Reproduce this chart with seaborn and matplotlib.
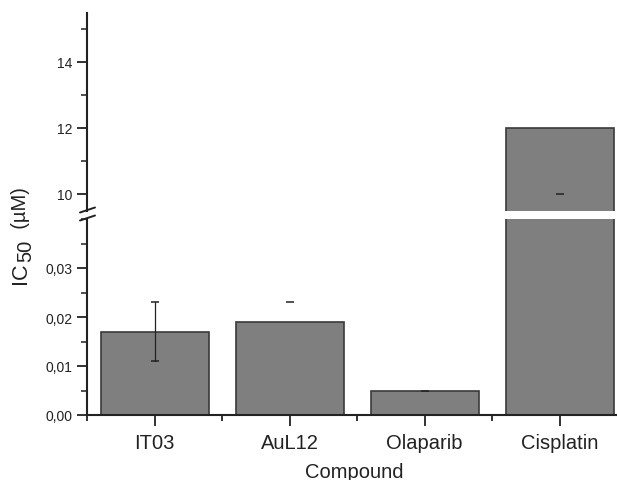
import numpy as np
import pandas as pd
import matplotlib
matplotlib.use("Agg")
import matplotlib.pyplot as plt
from matplotlib.lines import Line2D
from matplotlib.ticker import MultipleLocator, FuncFormatter, FixedLocator
import seaborn as sns

# ---- data ----
compounds = ["IT03", "AuL12", "Olaparib", "Cisplatin"]
ic50 = [0.017, 0.019, 0.005, 12.0]
err_lower = [0.011, np.nan, np.nan, 10.0]   # lower error caps (visible)
err_upper = [0.023, 0.023, 0.005, np.nan]   # upper error caps (visible)

lower_ticks = [0.00, 0.01, 0.02, 0.03]
upper_ticks = [10, 12, 14]

df = pd.DataFrame({"Compound": compounds, "IC50": ic50})

sns.set_style("ticks")
plt.rcParams["font.family"] = ["Liberation Sans", "DejaVu Sans"]

W, H = 617, 481
fig = plt.figure(figsize=(W / 100, H / 100), dpi=100)

x0 = 87 / W
aw = 540 / W
ax_lo = fig.add_axes([x0, (H - 416) / H, aw, 196 / H])
ax_hi = fig.add_axes([x0, (H - 211.5) / H, aw, 198 / H])

bar_kw = dict(data=df, x="Compound", y="IC50", color="#7f7f7f", saturation=1,
              edgecolor="#3a3a3a", linewidth=1.2, width=0.8, errorbar=None)
sns.barplot(ax=ax_lo, **bar_kw)
sns.barplot(ax=ax_hi, **bar_kw)

for ax in (ax_lo, ax_hi):
    ax.set_xlim(-0.5, 3.5)
    ax.set_xlabel("")
    ax.set_ylabel("")
    for s in ("top", "right"):
        ax.spines[s].set_visible(False)
    ax.spines["left"].set_linewidth(1.5)
    ax.spines["left"].set_color("#222222")
    ax.tick_params(axis="y", which="major", length=7, width=1.3, labelsize=10,
                   colors="#222222", direction="out")
    ax.tick_params(axis="y", which="minor", length=4, width=1.1, left=True,
                   direction="out", colors="#222222")

ax_lo.set_ylim(0, 0.04)
ax_hi.set_ylim(9.5, 15.5)

ax_lo.yaxis.set_major_locator(FixedLocator(lower_ticks))
ax_lo.yaxis.set_minor_locator(MultipleLocator(0.005))
ax_lo.yaxis.set_major_formatter(FuncFormatter(lambda v, p: f"{v:.2f}".replace(".", ",")))
ax_hi.yaxis.set_major_locator(FixedLocator(upper_ticks))
ax_hi.yaxis.set_minor_locator(MultipleLocator(1))
ax_hi.yaxis.set_major_formatter(FuncFormatter(lambda v, p: f"{v:.0f}"))

ax_hi.spines["bottom"].set_visible(False)
ax_hi.tick_params(axis="x", bottom=False, labelbottom=False)

ax_lo.spines["bottom"].set_linewidth(1.5)
ax_lo.spines["bottom"].set_color("#222222")
ax_lo.xaxis.set_minor_locator(FixedLocator([-0.5, 0.5, 1.5, 2.5, 3.5]))
ax_lo.tick_params(axis="x", which="major", length=8, width=1.3, labelsize=14.5,
                  colors="#222222", direction="out", pad=5)
ax_lo.tick_params(axis="x", which="minor", length=4, width=1.3, bottom=True,
                  direction="out", colors="#222222")
ax_lo.set_xticks(range(len(compounds)))
ax_lo.set_xticklabels(compounds)

# ---- error bars (visible parts) ----
for i, (lo, hi) in enumerate(zip(err_lower, err_upper)):
    for ax in (ax_lo, ax_hi):
        if not np.isnan(lo) and not np.isnan(hi):
            ax.plot([i, i], [lo, hi], color="#222222", lw=0.9, zorder=5, clip_on=True)
        for v in (lo, hi):
            if not np.isnan(v):
                ax.plot([i], [v], marker="_", markersize=6, mew=1.1,
                        color="#222222", zorder=6, clip_on=True)

# ---- axis break marks ----
for (x1, y1, x2, y2) in [(80, 213.5, 95, 208.5), (80, 221.5, 95, 216.5)]:
    fig.add_artist(Line2D([x1 / W, x2 / W], [(H - y1) / H, (H - y2) / H],
                          transform=fig.transFigure, color="#222222", lw=1.4))

# ---- y label: "IC" + large subscript "50" + "(µM)" ----
renderer = fig.canvas.get_renderer()
pieces = [("IC", 15.5, 21.0), ("50", 14.5, 25.5), ("  (\u00b5M)", 14.5, 21.0)]
y_cur = 284.0  # pixel row (from top) where the label starts (bottom end)
for txt, fs, xc in pieces:
    t = fig.text(xc / W, (H - y_cur) / H, txt, rotation=90, ha="center",
                 va="bottom", fontsize=fs, color="#222222")
    ext = t.get_window_extent(renderer)
    y_cur -= ext.height

fig.text(354 / W, (H - 473) / H, "Compound", ha="center", va="center",
         fontsize=14.5, color="#222222")

fig.savefig("out.png", dpi=100)
